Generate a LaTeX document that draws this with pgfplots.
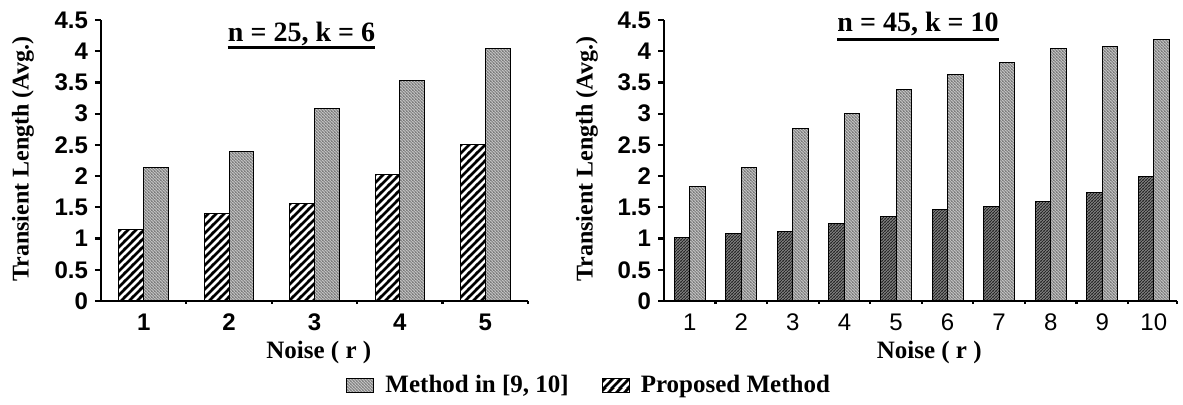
\documentclass[border=0pt]{standalone}
\usepackage{pgfplots}
\pgfplotsset{compat=1.18}
\usetikzlibrary{patterns.meta}
\usepackage{fontspec}
\setmainfont{Liberation Serif}
\setsansfont{Liberation Sans}

% bold "////" hatching
\tikzdeclarepattern{
  name=boldNE,
  type=uncolored,
  bounding box={(0pt,0pt) and (4.2pt,4.2pt)},
  tile size={(4.2pt,4.2pt)},
  code={
    \draw[line width=1.4pt] (-1pt,-1pt) -- (5.2pt,5.2pt);
    \draw[line width=1.4pt] (-1pt,3.2pt) -- (1pt,5.2pt);
    \draw[line width=1.4pt] (3.2pt,-1pt) -- (5.2pt,1pt);
  }
}
% fine "\\\\" texture
\tikzdeclarepattern{
  name=fineNW,
  type=uncolored,
  bounding box={(0pt,0pt) and (1.6pt,1.6pt)},
  tile size={(1.6pt,1.6pt)},
  code={
    \draw[line width=0.45pt] (-0.5pt,2.1pt) -- (2.1pt,-0.5pt);
    \draw[line width=0.45pt] (-0.5pt,0.5pt) -- (0.5pt,-0.5pt);
    \draw[line width=0.45pt] (1.1pt,2.1pt) -- (2.1pt,1.1pt);
  }
}
% fine "////" texture
\tikzdeclarepattern{
  name=fineNE,
  type=uncolored,
  bounding box={(0pt,0pt) and (1.6pt,1.6pt)},
  tile size={(1.6pt,1.6pt)},
  code={
    \draw[line width=0.45pt] (-0.5pt,-0.5pt) -- (2.1pt,2.1pt);
    \draw[line width=0.45pt] (-0.5pt,1.1pt) -- (0.5pt,2.1pt);
    \draw[line width=0.45pt] (1.1pt,-0.5pt) -- (2.1pt,0.5pt);
  }
}

\tikzset{
  ylabelfont/.style={font=\bfseries\fontsize{12}{12}\selectfont},
  xlabelfont/.style={font=\bfseries\fontsize{12.5}{12.5}\selectfont},
}

\pgfplotsset{
  tlaxis/.style={
    scale only axis,
    ybar,
    ymin=0, ymax=4.5,
    ytick={0,0.5,1,1.5,2,2.5,3,3.5,4,4.5},
    axis x line*=bottom, axis y line*=left,
    axis line style={line width=1.3pt},
    tick align=outside,
    major tick length=3pt,
    minor tick length=1.6pt,
    every tick/.style={black, line width=1.1pt},
    major x tick style={draw=none},
    /pgf/number format/assume math mode=true,
    yticklabel style={font=\sffamily\bfseries\fontsize{12}{12}\selectfont},
    xlabel={Noise ( r )},
    ylabel={Transient Length (Avg.)},
  },
  methodbar/.style={draw=black, line width=0.5pt, fill=black!20,
    postaction={pattern=fineNW, pattern color=black!55}},
  propbar/.style={draw=black, line width=0.5pt, fill=white,
    postaction={pattern=boldNE, pattern color=black}},
  propdark/.style={draw=black, line width=0.5pt, fill=black!45,
    postaction={pattern=fineNE, pattern color=black!85}},
  swatch/.style={legend image code/.code={
    \draw[##1] (0pt,-3.5pt) rectangle (13.5pt,3.5pt);}},
}

\begin{document}
\begin{tikzpicture}
\path[use as bounding box] (0,0) rectangle (591.5pt,202.5pt);

% n = 25, k = 6
\begin{axis}[tlaxis,
  width=213.5pt, height=140.5pt,
  at={(50.5pt,52pt)}, anchor=south west,
  xmin=0.5, xmax=5.5,
  xtick={1,2,3,4,5},
  minor xtick={1.5,2.5,3.5,4.5,5.5},
  xticklabel style={font=\sffamily\bfseries\fontsize{12}{12}\selectfont},
  bar width=0.29,
  every axis y label/.style={ylabelfont, at={(axis description cs:-0.183,0.505)}, rotate=90, anchor=center},
  every axis x label/.style={xlabelfont, at={(axis description cs:0.51,-0.185)}, anchor=center},
  legend columns=2,
  legend cell align=left,
  legend style={draw=none, fill=none, inner sep=0pt,
    at={(axis description cs:0.574,-0.299)}, anchor=west,
    font=\bfseries\fontsize{12.5}{12.5}\selectfont,
    /tikz/every odd column/.append style={column sep=3.5pt},
    /tikz/every even column/.append style={column sep=14.5pt}},
]
\addplot[propbar, bar shift=-0.145, forget plot] coordinates {
  (1,1.14) (2,1.40) (3,1.56) (4,2.02) (5,2.50)};
\addplot[methodbar, bar shift=0.145, forget plot] coordinates {
  (1,2.13) (2,2.40) (3,3.08) (4,3.53) (5,4.04)};
\addlegendimage{swatch, methodbar}
\addlegendentry{Method in [9, 10]}
\addlegendimage{swatch, propbar}
\addlegendentry{Proposed Method}
\end{axis}

% n = 45, k = 10
\begin{axis}[tlaxis,
  width=256.5pt, height=140.5pt,
  at={(332pt,52pt)}, anchor=south west,
  xmin=0.5, xmax=10.45,
  xtick={1,2,3,4,5,6,7,8,9,10},
  minor xtick={1.5,2.5,3.5,4.5,5.5,6.5,7.5,8.5,9.5,10.45},
  xticklabel style={font=\sffamily\fontsize{12}{12}\selectfont},
  bar width=0.3,
  every axis y label/.style={ylabelfont, at={(axis description cs:-0.150,0.505)}, rotate=90, anchor=center},
  every axis x label/.style={xlabelfont, at={(axis description cs:0.517,-0.185)}, anchor=center},
]
\addplot[propdark, bar shift=-0.15] coordinates {
  (1,1.01) (2,1.08) (3,1.11) (4,1.24) (5,1.36)
  (6,1.47) (7,1.52) (8,1.59) (9,1.74) (10,2.00)};
\addplot[methodbar, bar shift=0.15] coordinates {
  (1,1.83) (2,2.14) (3,2.76) (4,3.01) (5,3.39)
  (6,3.62) (7,3.82) (8,4.05) (9,4.08) (10,4.18)};
\end{axis}

% panel captions
\node[anchor=base, inner sep=0pt, font=\bfseries\fontsize{14}{14}\selectfont] (t1) at (150.75pt,181.5pt) {n = 25, k = 6};
\draw[line width=1.5pt] ([yshift=-3pt]t1.base west) -- ([yshift=-3pt]t1.base east);
\node[anchor=base, inner sep=0pt, font=\bfseries\fontsize{14}{14}\selectfont] (t2) at (459pt,186.5pt) {n = 45, k = 10};
\draw[line width=1.5pt] ([yshift=-3.6pt]t2.base west) -- ([yshift=-3.6pt]t2.base east);
\end{tikzpicture}
\end{document}
